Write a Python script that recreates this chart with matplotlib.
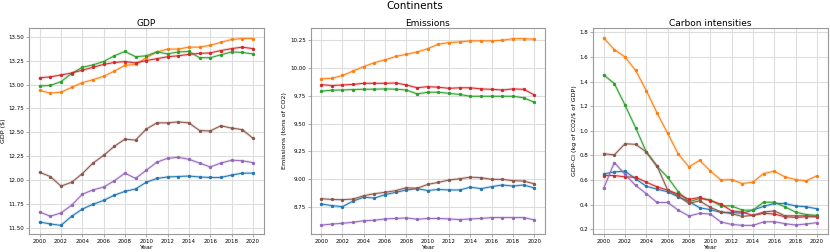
import numpy as np
import matplotlib.pyplot as plt

# Continents: GDP, emissions and carbon intensity, 2000-2020

years = np.arange(2000, 2021)
colors = ['tab:blue', 'tab:orange', 'tab:green', 'tab:red', 'tab:purple', 'tab:brown']

gdp_blue = [11.565, 11.545, 11.53, 11.625, 11.70, 11.75, 11.79, 11.845, 11.885, 11.91, 11.98,
            12.02, 12.035, 12.04, 12.045, 12.035, 12.03, 12.03, 12.055, 12.075, 12.075]
gdp_orange = [12.94, 12.91, 12.92, 12.97, 13.02, 13.05, 13.085, 13.14, 13.20, 13.21, 13.28,
              13.34, 13.37, 13.37, 13.39, 13.39, 13.41, 13.44, 13.47, 13.48, 13.48]
gdp_green = [12.986, 12.99, 13.03, 13.115, 13.18, 13.205, 13.24, 13.30, 13.345, 13.29, 13.30,
             13.34, 13.32, 13.34, 13.345, 13.28, 13.28, 13.31, 13.34, 13.335, 13.32]
gdp_red = [13.07, 13.08, 13.10, 13.12, 13.15, 13.18, 13.21, 13.23, 13.24, 13.225, 13.25,
           13.27, 13.29, 13.30, 13.315, 13.325, 13.33, 13.355, 13.375, 13.39, 13.375]
gdp_purple = [11.67, 11.625, 11.66, 11.74, 11.855, 11.90, 11.93, 11.995, 12.075, 12.02, 12.105,
              12.19, 12.23, 12.24, 12.22, 12.18, 12.14, 12.18, 12.21, 12.205, 12.185]
gdp_brown = [12.083, 12.04, 11.94, 11.98, 12.07, 12.18, 12.26, 12.355, 12.43, 12.42, 12.535,
             12.60, 12.60, 12.61, 12.60, 12.52, 12.515, 12.57, 12.545, 12.53, 12.44]

em_blue = [8.78, 8.765, 8.756, 8.806, 8.84, 8.833, 8.863, 8.884, 8.905, 8.917, 8.90,
           8.91, 8.905, 8.905, 8.93, 8.917, 8.935, 8.95, 8.94, 8.95, 8.923]
em_orange = [9.899, 9.905, 9.93, 9.97, 10.01, 10.045, 10.07, 10.10, 10.12, 10.14, 10.17,
             10.21, 10.225, 10.23, 10.24, 10.24, 10.24, 10.245, 10.26, 10.26, 10.255]
em_green = [9.79, 9.798, 9.80, 9.804, 9.807, 9.807, 9.81, 9.807, 9.80, 9.765, 9.78,
            9.78, 9.77, 9.76, 9.744, 9.744, 9.744, 9.744, 9.744, 9.73, 9.69]
em_red = [9.848, 9.84, 9.845, 9.85, 9.86, 9.86, 9.86, 9.863, 9.845, 9.82, 9.83,
          9.825, 9.815, 9.82, 9.82, 9.81, 9.806, 9.80, 9.81, 9.806, 9.756]
em_purple = [8.59, 8.60, 8.607, 8.616, 8.63, 8.634, 8.646, 8.65, 8.655, 8.643, 8.65,
             8.65, 8.646, 8.64, 8.646, 8.65, 8.658, 8.658, 8.658, 8.658, 8.637]
em_brown = [8.827, 8.82, 8.818, 8.824, 8.854, 8.872, 8.884, 8.90, 8.925, 8.92, 8.955,
            8.973, 8.994, 9.006, 9.02, 9.015, 9.00, 9.00, 8.988, 8.985, 8.96]

ci_blue = [0.65, 0.666, 0.672, 0.61, 0.55, 0.526, 0.505, 0.464, 0.426, 0.375, 0.36,
           0.337, 0.337, 0.33, 0.356, 0.386, 0.41, 0.41, 0.39, 0.383, 0.367]
ci_orange = [1.754, 1.66, 1.60, 1.49, 1.327, 1.146, 0.98, 0.812, 0.707, 0.76, 0.674,
             0.60, 0.604, 0.572, 0.583, 0.653, 0.672, 0.626, 0.604, 0.594, 0.634]
ci_green = [1.454, 1.384, 1.21, 1.025, 0.828, 0.712, 0.623, 0.505, 0.424, 0.45, 0.44,
            0.39, 0.39, 0.356, 0.356, 0.42, 0.42, 0.383, 0.34, 0.32, 0.313]
ci_red = [0.637, 0.637, 0.626, 0.623, 0.583, 0.545, 0.518, 0.486, 0.443, 0.459, 0.432,
          0.405, 0.35, 0.34, 0.313, 0.33, 0.324, 0.302, 0.297, 0.302, 0.302]
ci_purple = [0.532, 0.742, 0.647, 0.556, 0.49, 0.418, 0.418, 0.356, 0.308, 0.33, 0.324,
             0.26, 0.24, 0.232, 0.232, 0.26, 0.262, 0.246, 0.235, 0.243, 0.254]
ci_brown = [0.815, 0.804, 0.895, 0.89, 0.828, 0.715, 0.52, 0.47, 0.41, 0.432, 0.378,
            0.343, 0.327, 0.305, 0.313, 0.34, 0.35, 0.31, 0.31, 0.31, 0.305]

panels = [
    ('GDP', 'GDP ($)', [gdp_blue, gdp_orange, gdp_green, gdp_red, gdp_purple, gdp_brown],
     [11.5, 11.75, 12.0, 12.25, 12.5, 12.75, 13.0, 13.25, 13.5], '%.2f', (11.44, 13.59)),
    ('Emissions', 'Emissions (tons of CO2)', [em_blue, em_orange, em_green, em_red, em_purple, em_brown],
     [8.75, 9.0, 9.25, 9.5, 9.75, 10.0, 10.25], '%.2f', (8.511, 10.355)),
    ('Carbon intensities', 'GDP-CI (kg of CO2/$ of GDP)',
     [ci_blue, ci_orange, ci_green, ci_red, ci_purple, ci_brown],
     [0.2, 0.4, 0.6, 0.8, 1.0, 1.2, 1.4, 1.6, 1.8], '%.1f', (0.162, 1.835)),
]

fig = plt.figure(figsize=(8.3, 2.52), dpi=100)
lefts = [29, 310.5, 593]
for (title, ylabel, series, yticks, fmt, ylim), left in zip(panels, lefts):
    ax = fig.add_axes([left / 830, 18 / 252, 234.5 / 830, 206 / 252])
    for vals, c in zip(series, colors):
        ax.plot(years, vals, color=c, lw=2.0, alpha=0.22, solid_capstyle='round')
        ax.plot(years, vals, color=c, lw=0.7, marker='o', ms=1.4)
    ax.set_title(title, fontsize=6.5, pad=1.5)
    ax.set_xlabel('Year', fontsize=4.6, labelpad=0.5)
    ax.set_ylabel(ylabel, fontsize=4.6, labelpad=2)
    ax.set_xticks(range(2000, 2021, 2))
    ax.set_yticks(yticks)
    ax.yaxis.set_major_formatter(plt.FormatStrFormatter(fmt))
    ax.set_xlim(1999, 2021)
    ax.set_ylim(*ylim)
    ax.tick_params(labelsize=4, length=2, width=0.5, pad=1.5, color='#888888')
    ax.grid(color='#dddddd', lw=0.8)
    ax.set_axisbelow(True)
    for s in ax.spines.values():
        s.set_color('#999999')
        s.set_linewidth(0.8)

fig.suptitle('Continents', fontsize=7.5, y=0.995)
fig.savefig('out.png', dpi=100)
